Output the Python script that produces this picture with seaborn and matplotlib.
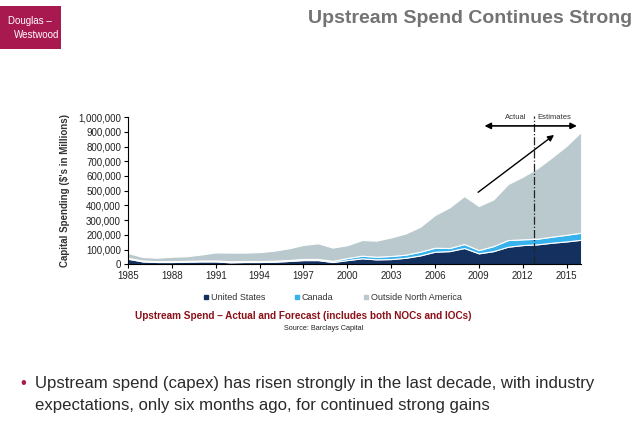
import matplotlib.pyplot as plt
import numpy as np
import seaborn as sns
from matplotlib.lines import Line2D
from matplotlib.patches import Rectangle

years = list(range(1985, 2017))
# stacked tops ($ millions)
us_top = [38000, 20000, 16000, 16000, 18000, 20000, 20000, 14000, 16000, 16000,
          18000, 23000, 29000, 29000, 16000, 29000, 41000, 34000, 36000, 45000,
          61000, 86000, 90000, 111000, 75000, 90000, 120000, 131000, 136000, 147000,
          156000, 167000]
canada_top = [45000, 26000, 22000, 22000, 24000, 26000, 27000, 21000, 23000, 23000,
              25000, 30000, 37000, 37000, 24000, 43000, 59000, 52000, 57000, 66000,
              86000, 113000, 111000, 138000, 97000, 124000, 165000, 170000, 174000, 188000,
              201000, 215000]
total = [77000, 50000, 45000, 52000, 55000, 67000, 81000, 80000, 80000, 83000,
         93000, 109000, 132000, 143000, 114000, 130000, 165000, 161000, 183000, 210000,
         256000, 335000, 387000, 464000, 396000, 441000, 545000, 595000, 652000, 726000,
         805000, 900000]

us = np.array(us_top)
canada = np.array(canada_top) - us
outside = np.array(total) - np.array(canada_top)

series_names = ["United States", "Canada", "Outside North America"]
colors = ["#14305e", "#38b2ec", "#b9c9cd"]

sns.set_style("white")
plt.rcParams['font.family'] = ['Liberation Sans', 'DejaVu Sans']

fig = plt.figure(figsize=(6.4, 4.32), dpi=100)
ax = fig.add_axes([0.2, 0.388, 0.708, 0.341])

ax.stackplot(years, us, canada, outside, colors=colors,
             edgecolor="white", linewidth=0.8)

ax.set_xlim(1985, 2016)
ax.set_ylim(0, 1000000)
ax.set_xticks(range(1985, 2016, 3))
ax.set_yticks(range(0, 1000001, 100000))
ax.set_yticklabels([f"{v:,}" for v in range(0, 1000001, 100000)])
ax.tick_params(axis="both", labelsize=7, length=3, width=0.8, direction="out",
               color="black", labelcolor="#222222", pad=2)
ax.tick_params(axis="x", length=3, bottom=True)
ax.tick_params(axis="y", left=True)
sns.despine(ax=ax)
for s in ["left", "bottom"]:
    ax.spines[s].set_color("black")
    ax.spines[s].set_linewidth(0.8)
ax.set_ylabel("Capital Spending ($'s in Millions)", fontsize=7, fontweight="bold",
              color="#333333", labelpad=6)

# forecast markers
ax.axvline(2012.8, ymin=0, ymax=1.01, color="#222222", linestyle="-.", linewidth=0.9,
           clip_on=False)
ax.annotate("", xy=(2009.2, 940000), xytext=(2015.9, 940000),
            arrowprops=dict(arrowstyle="<|-|>", color="black", lw=1.2,
                            mutation_scale=9), annotation_clip=False)
ax.text(2011.5, 975000, "Actual", fontsize=5.5, ha="center", va="bottom", color="#333333")
ax.text(2014.2, 975000, "Estimates", fontsize=5.5, ha="center", va="bottom", color="#333333")
ax.annotate("", xy=(2014.3, 890000), xytext=(2008.8, 478000),
            arrowprops=dict(arrowstyle="-|>", color="black", lw=1.0, mutation_scale=9))

handles = [Line2D([], [], marker="s", linestyle="", color=c, markersize=3.5) for c in colors]
ax.legend(handles, series_names, loc="upper center", bbox_to_anchor=(0.45, -0.14),
          ncol=3, frameon=False, fontsize=6.5, handletextpad=0.1, columnspacing=3.2,
          handlelength=0.8, labelcolor="#333333")

fig.text(0.474, 0.268, "Upstream Spend \u2013 Actual and Forecast (includes both NOCs and IOCs)",
         ha="center", va="center", fontsize=7.2, fontweight="bold", color="#8c1018")
fig.text(0.505, 0.24, "Source: Barclays Capital", ha="center", va="center",
         fontsize=5.2, color="#222222")

# header
fig.text(0.988, 0.958, "Upstream Spend Continues Strong", ha="right", va="center",
         fontsize=14, fontweight="bold", color="#737373")
fig.patches.append(Rectangle((0, 0.887), 0.096, 0.1, transform=fig.transFigure,
                             facecolor="#a8194f", edgecolor="none"))
fig.text(0.012, 0.952, "Douglas \u2013", fontsize=7, color="white", va="center", ha="left")
fig.text(0.022, 0.92, "Westwood", fontsize=7, color="white", va="center", ha="left")

# bullet
fig.text(0.036, 0.113, "\u2022", fontsize=12, color="#a8194f", va="center", ha="center")
fig.text(0.055, 0.113, "Upstream spend (capex) has risen strongly in the last decade, with industry",
         fontsize=12.1, color="#2a2a2a", va="center", ha="left")
fig.text(0.055, 0.062, "expectations, only six months ago, for continued strong gains",
         fontsize=12.1, color="#2a2a2a", va="center", ha="left")

fig.savefig("out.png", dpi=100)
